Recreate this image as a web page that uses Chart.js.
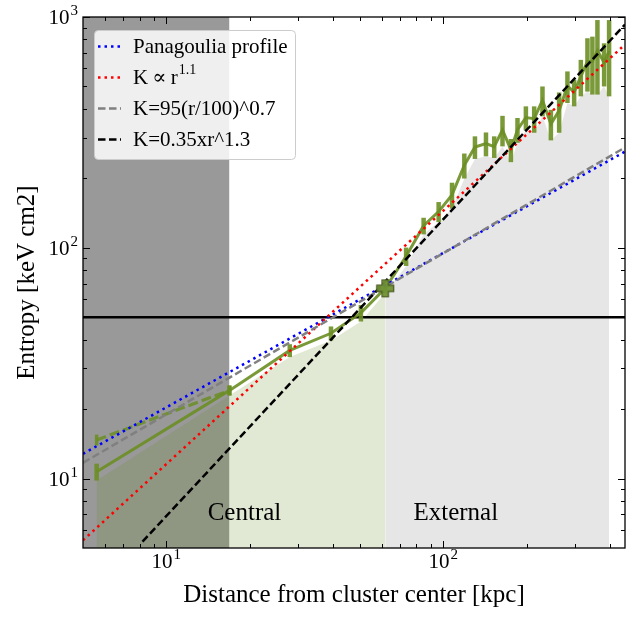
<!DOCTYPE html>
<html>
<head>
<meta charset="utf-8">
<script src="https://cdn.jsdelivr.net/npm/chart.js@4.4.1/dist/chart.umd.min.js"></script>
<style>
  html, body { margin: 0; padding: 0; background: #fff; }
  #wrap { width: 635px; height: 618px; }
</style>
</head>
<body>
<div id="wrap"><canvas id="entropyChart" width="635" height="618"></canvas></div>
<script>
// Axis limits
const xMin = 5, xMax = 453;
const yMin = 5, yMax = 1000;

// Tick values
const xMajorTicks = [10, 100];
const xMinorTicks = [6, 7, 8, 9, 20, 30, 40, 50, 60, 70, 80, 90, 200, 300, 400];
const yMajorTicks = [10, 100, 1000];
const yMinorTicks = [6, 7, 8, 9, 20, 30, 40, 50, 60, 70, 80, 90, 200, 300, 400, 500, 600, 700, 800, 900];

// Entropy profile (solid) with errors
const profileR = [5.6, 16.9, 27.9, 39.3, 50.4, 61.7, 73.4, 84.9, 96.2, 107.5, 119.1, 130.1, 142.6, 152.7, 163.6,
                  175.4, 185.3, 198.7, 212.9, 228.1, 244.6, 262.0, 280.7, 296.8, 313.8, 331.5, 345.5, 360.2, 380.8, 396.9];
const profileK = [10.7, 24.1, 35.9, 42.6, 52.2, 66.7, 91.8, 124.6, 143.5, 169.5, 227.8, 273.3, 282.5, 274.5, 324,
                  265.5, 325, 366.5, 362.5, 435.5, 344, 393, 502.5, 472.5, 552.5, 642, 641.5, 715.5, 634.5, 711.5];
const profileErr = [0.9, 1.2, 2.3, 3.0, 4.3, 3.0, 8.4, 10.3, 14.3, 21.9, 28.3, 30.7, 33.5, 29.5, 49,
                    30.5, 40, 43.5, 47.5, 64.5, 52, 78, 78.5, 62.5, 99.5, 167, 180.5, 254.5, 134.5, 258.5];

// Inner profile (dashed)
const innerR = [5.6, 16.9];
const innerK = [14.7, 24.1];
const innerErr = [0.8, 1.2];

// Highlighted point
const markR = [61.7];
const markK = [66.7];

// Region boundaries
const coreLimitR = 16.9;
const splitR = 61.7;
const thresholdK = 50;

// Model lines (end points)
const panagouliaR = [5, 453], panagouliaK = [12.8, 261];
const powerR = [5, 453], powerK = [5.4, 760];
const fit07R = [5, 453], fit07K = [11.7, 272];
const fit13R = [8.2, 453], fit13K = [5.33, 927];

// Texts
const legendLabels = ['Panagoulia profile', 'K\u2009\u221D\u2009r', 'K=95(r/100)^0.7', 'K=0.35xr^1.3'];
const legendSup = ['', '1.1', '', ''];
const regionLabels = ['Central', 'External'];
const regionLabelR = [14.1, 78];
const regionLabelK = 6.6;

const SERIF = "'Liberation Serif', 'DejaVu Serif', serif";
const OLIVE = 'rgba(107,142,35,0.9)';

const pts = (xs, ys) => xs.map((x, i) => ({ x: x, y: ys[i] }));

// Filled plus marker
function makePlusMarker() {
    const c = document.createElement('canvas');
    c.width = 20; c.height = 20;
    const g = c.getContext('2d');
    const m = 10, a = 3.2, b = 8.5;
    g.beginPath();
    g.moveTo(m - a, m - b); g.lineTo(m + a, m - b); g.lineTo(m + a, m - a); g.lineTo(m + b, m - a);
    g.lineTo(m + b, m + a); g.lineTo(m + a, m + a); g.lineTo(m + a, m + b); g.lineTo(m - a, m + b);
    g.lineTo(m - a, m + a); g.lineTo(m - b, m + a); g.lineTo(m - b, m - a); g.lineTo(m - a, m - a);
    g.closePath();
    g.fillStyle = 'rgba(112,146,52,0.95)';
    g.fill();
    g.strokeStyle = '#4a5a22';
    g.lineWidth = 1.2;
    g.stroke();
    return c;
}

const lowerK = profileK.map((k, i) => k - profileErr[i]);
const innerIdx = profileR.map((r, i) => i).filter(i => profileR[i] <= splitR);
const outerIdx = profileR.map((r, i) => i).filter(i => profileR[i] >= splitR);

const lineDs = (label, data, color, width, dash) => ({
    label, data, borderColor: color, borderWidth: width, borderDash: dash || [],
    pointRadius: 0, fill: false, tension: 0
});

// bottom -> top
const datasets = [
    { label: 'core', data: pts([xMin, coreLimitR], [yMax, yMax]), borderColor: 'transparent', borderWidth: 0,
      backgroundColor: 'rgba(128,128,128,0.8)', fill: 'start', pointRadius: 0 },
    { label: 'inner fill', data: innerIdx.map(i => ({ x: profileR[i], y: lowerK[i] })), borderColor: 'transparent',
      borderWidth: 0, backgroundColor: 'rgba(107,142,35,0.2)', fill: 'start', pointRadius: 0 },
    { label: 'outer fill', data: outerIdx.map(i => ({ x: profileR[i], y: lowerK[i] })), borderColor: 'transparent',
      borderWidth: 0, backgroundColor: 'rgba(128,128,128,0.2)', fill: 'start', pointRadius: 0 },
    lineDs('K threshold', pts([xMin, xMax], [thresholdK, thresholdK]), '#000', 2.5),
    Object.assign(lineDs('profile', pts(profileR, profileK), OLIVE, 3), { errors: profileErr, errorWidth: 4.5 }),
    Object.assign(lineDs('inner', pts(innerR, innerK), 'rgba(107,142,35,0.85)', 3.2, [10, 4]), { errors: innerErr, errorWidth: 3.5 }),
    lineDs('Panagoulia profile', pts(panagouliaR, panagouliaK), '#0000ff', 2.5, [2.5, 4]),
    lineDs('K r^1.1', pts(powerR, powerK), '#ff0000', 2.5, [2.5, 4]),
    lineDs('K=95(r/100)^0.7', pts(fit07R, fit07K), '#808080', 2.5, [7.5, 3.5]),
    lineDs('K=0.35xr^1.3', pts(fit13R, fit13K), '#000000', 2.5, [7.5, 3.5]),
    { label: 'mark', data: pts(markR, markK), showLine: false, pointStyle: makePlusMarker(), pointRadius: 9 }
];
datasets.forEach((d, i) => { d.order = datasets.length - i; });

// Error bars, drawn just before their line
const errorBarPlugin = {
    id: 'errorBars',
    beforeDatasetDraw(chart, args) {
        const ds = chart.data.datasets[args.index];
        if (!ds.errors) return;
        const { ctx, chartArea: a, scales: { x, y } } = chart;
        ctx.save();
        ctx.beginPath();
        ctx.rect(a.left, a.top, a.right - a.left, a.bottom - a.top);
        ctx.clip();
        ctx.strokeStyle = OLIVE;
        ctx.lineWidth = ds.errorWidth;
        ds.data.forEach((p, i) => {
            const e = ds.errors[i];
            const px = x.getPixelForValue(p.x);
            ctx.beginPath();
            ctx.moveTo(px, y.getPixelForValue(p.y - e));
            ctx.lineTo(px, y.getPixelForValue(p.y + e));
            ctx.stroke();
        });
        ctx.restore();
    }
};

// "10" with a raised exponent
function powerLabel(ctx, v, px, baseY, align) {
    const exp = String(Math.round(Math.log10(v)));
    ctx.font = '21px ' + SERIF;
    const w1 = ctx.measureText('10').width;
    ctx.font = '15px ' + SERIF;
    const w2 = ctx.measureText(exp).width;
    const left = align === 'right' ? px - w1 - w2 - 1 : px - (w1 + w2 + 1) / 2;
    ctx.textAlign = 'left';
    ctx.textBaseline = 'alphabetic';
    ctx.font = '21px ' + SERIF;
    ctx.fillText('10', left, baseY);
    ctx.font = '15px ' + SERIF;
    ctx.fillText(exp, left + w1 + 1, baseY - 9);
}

// Frame, inward ticks, tick labels, region labels, legend
const decorPlugin = {
    id: 'decor',
    afterDatasetsDraw(chart) {
        const { ctx, chartArea: a, scales: { x, y } } = chart;
        ctx.save();

        // region labels
        ctx.fillStyle = '#000';
        ctx.font = '25px ' + SERIF;
        ctx.textAlign = 'left';
        ctx.textBaseline = 'alphabetic';
        regionLabels.forEach((t, i) => {
            ctx.fillText(t, x.getPixelForValue(regionLabelR[i]), y.getPixelForValue(regionLabelK));
        });

        // ticks
        ctx.strokeStyle = '#000';
        ctx.lineWidth = 1;
        const seg = (x1, y1, x2, y2) => { ctx.beginPath(); ctx.moveTo(x1, y1); ctx.lineTo(x2, y2); ctx.stroke(); };
        const xt = (vals, len) => vals.forEach(v => {
            const px = Math.round(x.getPixelForValue(v)) + 0.5;
            seg(px, a.bottom, px, a.bottom - len);
            seg(px, a.top, px, a.top + len);
        });
        const yt = (vals, len) => vals.forEach(v => {
            const py = Math.round(y.getPixelForValue(v)) + 0.5;
            seg(a.left, py, a.left + len, py);
            seg(a.right, py, a.right - len, py);
        });
        xt(xMajorTicks, 7); xt(xMinorTicks, 4);
        yt(yMajorTicks, 7); yt(yMinorTicks, 4);

        ctx.lineWidth = 1.3;
        ctx.strokeRect(a.left, a.top, a.right - a.left, a.bottom - a.top);

        // tick labels
        ctx.fillStyle = '#000';
        xMajorTicks.forEach(v => powerLabel(ctx, v, x.getPixelForValue(v), a.bottom + 20, 'center'));
        yMajorTicks.forEach(v => powerLabel(ctx, v, a.left - 5, y.getPixelForValue(v) + 7, 'right'));

        // legend
        const bx = 94.5, by = 30.5, bw = 201, bh = 129;
        ctx.beginPath();
        ctx.roundRect(bx, by, bw, bh, 4);
        ctx.fillStyle = 'rgba(255,255,255,0.85)';
        ctx.fill();
        ctx.strokeStyle = '#cccccc';
        ctx.lineWidth = 1;
        ctx.stroke();

        const handles = [
            { color: '#0000ff', dash: [2.5, 4] },
            { color: '#ff0000', dash: [2.5, 4] },
            { color: '#808080', dash: [7.5, 3.5] },
            { color: '#000000', dash: [7.5, 3.5] }
        ];
        legendLabels.forEach((t, i) => {
            const ry = 46.5 + i * 31;
            ctx.save();
            ctx.strokeStyle = handles[i].color;
            ctx.lineWidth = 2.5;
            ctx.setLineDash(handles[i].dash);
            seg(98, ry, 121, ry);
            ctx.restore();
            ctx.fillStyle = '#000';
            ctx.font = '21px ' + SERIF;
            ctx.textAlign = 'left';
            ctx.textBaseline = 'middle';
            ctx.fillText(t, 133, ry + 1);
            if (legendSup[i]) {
                const w = ctx.measureText(t).width;
                ctx.font = '14px ' + SERIF;
                ctx.fillText(legendSup[i], 133 + w + 1, ry - 7);
            }
        });
        ctx.restore();
    }
};

const chart = new Chart(document.getElementById('entropyChart'), {
    type: 'line',
    data: { datasets },
    options: {
        responsive: false,
        animation: false,
        events: [],
        layout: { padding: { top: 17, right: 9, left: 0, bottom: 0 } },
        plugins: { legend: { display: false }, tooltip: { enabled: false } },
        scales: {
            x: {
                type: 'logarithmic', min: xMin, max: xMax, bounds: 'data',
                grid: { display: false, drawTicks: false },
                border: { display: false },
                afterBuildTicks: (s) => { s.ticks = xMajorTicks.map(v => ({ value: v })); },
                afterFit: (s) => { s.height = 70; },
                ticks: { display: false },
                title: {
                    display: true, text: 'Distance from cluster center [kpc]', color: '#000',
                    font: { family: SERIF, size: 25 }, padding: { top: 0, bottom: 8 }
                }
            },
            y: {
                type: 'logarithmic', min: yMin, max: yMax, bounds: 'data',
                grid: { display: false, drawTicks: false },
                border: { display: false },
                afterBuildTicks: (s) => { s.ticks = yMajorTicks.map(v => ({ value: v })); },
                afterFit: (s) => { s.width = 83; },
                ticks: { display: false },
                title: {
                    display: true, text: 'Entropy [keV cm2]', color: '#000',
                    font: { family: SERIF, size: 25 }, padding: { top: 12, bottom: 0 }
                }
            }
        }
    },
    plugins: [errorBarPlugin, decorPlugin]
});
</script>
</body>
</html>
